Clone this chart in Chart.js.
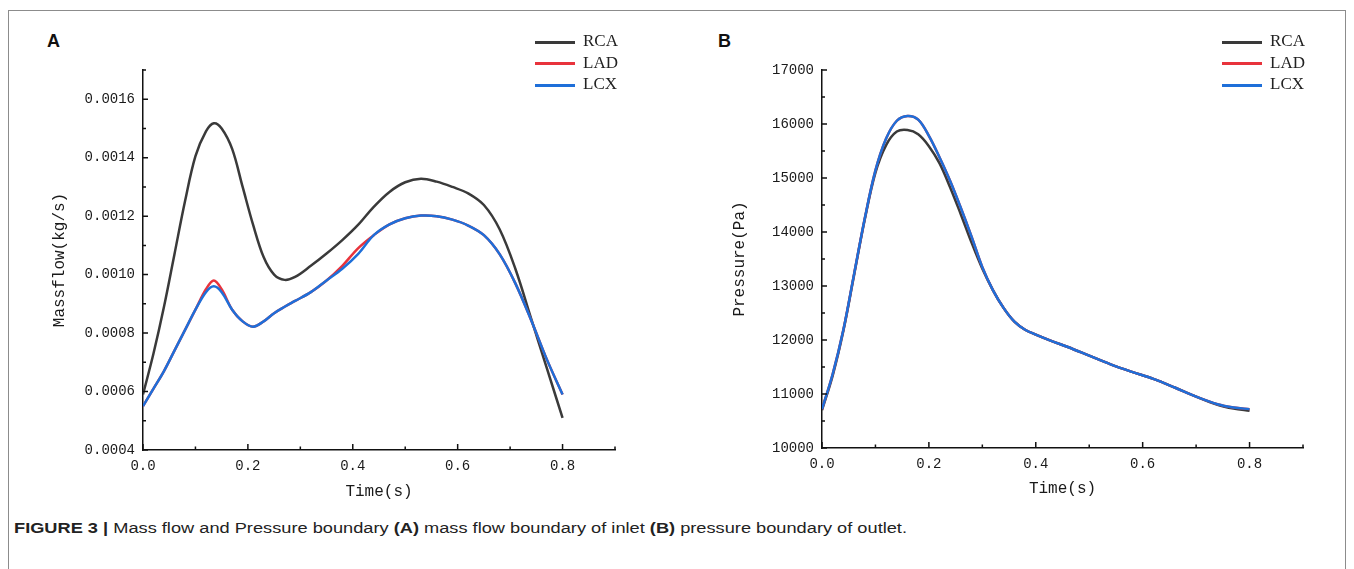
<!DOCTYPE html>
<html lang="en">
<head>
<meta charset="UTF-8">
<title>Figure 3 - Mass flow and Pressure boundary</title>
<script src="https://cdn.jsdelivr.net/npm/chart.js"></script>
<style>
  body { margin: 0; background: #fff; width: 1354px; height: 569px; overflow: hidden; position: relative;
         font-family: "Liberation Sans", Arial, sans-serif; color: #222; }
  .frame { position: absolute; left: 8px; top: 10px; width: 1336px; height: 620px; border: 1.5px solid #8c8c8c; }
  .panel { position: absolute; top: 20px; width: 600px; height: 490px; }
  .tag { position: absolute; top: 31px; font-weight: bold; font-size: 18px; color: #111; }
  .legend { position: absolute; top: 30px; font-family: "Liberation Serif", serif; font-size: 17px; color: #222; }
  .legend .row { height: 21.5px; line-height: 21.5px; white-space: nowrap; }
  .legend .ln { display: inline-block; width: 40px; height: 3px; vertical-align: middle; margin-right: 8px; }
  .caption { position: absolute; left: 14px; top: 519px; font-size: 15.5px; white-space: nowrap; transform-origin: left top; }
</style>
</head>
<body>
<div class="frame"></div>
<div class="tag" style="left:47px">A</div>
<div class="tag" style="left:718px">B</div>
<div class="panel" style="left:40px"><canvas id="chartA" width="600" height="490"></canvas></div>
<div class="panel" style="left:720px"><canvas id="chartB" width="600" height="490"></canvas></div>
<div class="legend" id="legendA" style="left:535px"></div>
<div class="legend" id="legendB" style="left:1222px"></div>
<div class="caption" id="caption"><b>FIGURE 3 |</b> Mass flow and Pressure boundary <b>(A)</b> mass flow boundary of inlet <b>(B)</b> pressure boundary of outlet.</div>

<script>
// ---- data ----
const seriesNames = ['RCA', 'LAD', 'LCX'];
const seriesColors = ['#3a3a3a', '#e8333c', '#1e6fd9'];

// panel A: mass flow at the inlets
const timeA = [0, 0.02, 0.04, 0.06, 0.08, 0.10, 0.12, 0.135, 0.15, 0.17, 0.19, 0.21, 0.23, 0.25, 0.27, 0.29,
               0.32, 0.35, 0.38, 0.41, 0.44, 0.47, 0.50, 0.53, 0.56, 0.59, 0.62, 0.65, 0.68, 0.71, 0.74, 0.77, 0.80];
const rcaFlow = [0.000590, 0.000730, 0.000890, 0.001070, 0.001250, 0.001405, 0.001490, 0.001518, 0.001500, 0.001430, 0.001300,
                 0.001170, 0.001060, 0.001000, 0.000982, 0.000992, 0.001030, 0.001072, 0.001118, 0.001170, 0.001232, 0.001283,
                 0.001316, 0.001328, 0.001318, 0.001300, 0.001278, 0.001238, 0.001155, 0.001020, 0.000850, 0.000680, 0.000510];
const ladFlow = [0.000550, 0.000610, 0.000670, 0.000740, 0.000810, 0.000880, 0.000950, 0.000980, 0.000950, 0.000880, 0.000840,
                 0.000822, 0.000840, 0.000868, 0.000890, 0.000910, 0.000940, 0.000980, 0.001030, 0.001090, 0.001135, 0.001172,
                 0.001193, 0.001202, 0.001200, 0.001188, 0.001168, 0.001135, 0.001070, 0.000970, 0.000845, 0.000710, 0.000590];
const lcxFlow = [0.000550, 0.000610, 0.000670, 0.000740, 0.000810, 0.000880, 0.000940, 0.000960, 0.000940, 0.000880, 0.000840,
                 0.000822, 0.000840, 0.000868, 0.000890, 0.000910, 0.000940, 0.000980, 0.001020, 0.001070, 0.001135, 0.001172,
                 0.001193, 0.001202, 0.001200, 0.001188, 0.001168, 0.001135, 0.001070, 0.000970, 0.000845, 0.000710, 0.000590];

// panel B: pressure at the outlets
const timeB = [0, 0.02, 0.04, 0.06, 0.08, 0.10, 0.12, 0.14, 0.16, 0.18, 0.20, 0.22, 0.24, 0.26, 0.28, 0.30,
               0.32, 0.34, 0.36, 0.38, 0.40, 0.43, 0.46, 0.50, 0.54, 0.58, 0.62, 0.66, 0.70, 0.74, 0.77, 0.80];
const rcaPres = [10700, 11340, 12170, 13200, 14230, 15100, 15610, 15860, 15890, 15810, 15590, 15270, 14820, 14320, 13800, 13320,
                 12920, 12590, 12340, 12190, 12100, 11980, 11870, 11710, 11550, 11410, 11280, 11120, 10950, 10800, 10730, 10690];
const ladPres = [10720, 11370, 12190, 13220, 14250, 15140, 15730, 16060, 16150, 16080, 15780, 15380, 14940, 14440, 13910, 13350,
                 12920, 12590, 12340, 12190, 12100, 11980, 11870, 11710, 11550, 11410, 11280, 11120, 10950, 10810, 10750, 10720];
const lcxPres = [10720, 11370, 12190, 13220, 14250, 15140, 15730, 16060, 16150, 16080, 15780, 15380, 14940, 14440, 13910, 13350,
                 12920, 12590, 12340, 12190, 12100, 11980, 11870, 11710, 11550, 11410, 11280, 11120, 10950, 10810, 10750, 10720];

// axes
const timeTicks = [0, 0.2, 0.4, 0.6, 0.8];
const timeMinor = [0.1, 0.3, 0.5, 0.7, 0.9];
const flowTicks = [0.0004, 0.0006, 0.0008, 0.0010, 0.0012, 0.0014, 0.0016];
const flowMinor = [0.0005, 0.0007, 0.0009, 0.0011, 0.0013, 0.0015, 0.0017];
const presTicks = [10000, 11000, 12000, 13000, 14000, 15000, 16000, 17000];
const presMinor = [10500, 11500, 12500, 13500, 14500, 15500, 16500];

// ---- drawing ----
const monoFont = '"Liberation Mono", "DejaVu Sans Mono", monospace';

// ticks point inward in the original, so draw them here
const inwardTicks = {
  id: 'inwardTicks',
  afterDraw(chart, args, opts) {
    const { ctx, chartArea: a, scales: { x, y } } = chart;
    ctx.save();
    ctx.strokeStyle = '#111';
    ctx.lineWidth = 1.5;
    ctx.beginPath();
    opts.xMajor.forEach(v => { const p = x.getPixelForValue(v); ctx.moveTo(p, a.bottom); ctx.lineTo(p, a.bottom - 6); });
    opts.xMinor.forEach(v => { const p = x.getPixelForValue(v); ctx.moveTo(p, a.bottom); ctx.lineTo(p, a.bottom - 3.5); });
    opts.yMajor.forEach(v => { const p = y.getPixelForValue(v); ctx.moveTo(a.left, p); ctx.lineTo(a.left + 5, p); });
    opts.yMinor.forEach(v => { const p = y.getPixelForValue(v); ctx.moveTo(a.left, p); ctx.lineTo(a.left + 3, p); });
    ctx.stroke();
    ctx.restore();
  }
};

function makeDatasets(time, lists) {
  return lists.map((vals, i) => ({
    label: seriesNames[i],
    data: vals.map((v, k) => ({ x: time[k], y: v })),
    borderColor: seriesColors[i],
    borderWidth: 2.5,
    pointRadius: 0,
    tension: 0.35,
    order: 3 - i   // LCX drawn on top
  }));
}

function makeChart(id, cfg) {
  return new Chart(document.getElementById(id), {
    type: 'line',
    data: { datasets: makeDatasets(cfg.time, cfg.series) },
    options: {
      responsive: false,
      animation: false,
      devicePixelRatio: 1,
      layout: { padding: { top: 50, right: cfg.padRight, left: 0, bottom: 0 } },
      plugins: {
        legend: { display: false },
        tooltip: { enabled: false },
        inwardTicks: { xMajor: timeTicks, xMinor: timeMinor, yMajor: cfg.yTicks, yMinor: cfg.yMinor }
      },
      scales: {
        x: {
          type: 'linear', min: 0, max: 0.9,
          afterBuildTicks: s => { s.ticks = timeTicks.map(v => ({ value: v })); },
          afterFit: s => { s.height = cfg.xHeight; },
          grid: { drawOnChartArea: false, drawTicks: false },
          border: { display: true, color: '#111', width: 1.5 },
          ticks: { padding: 8, color: '#1a1a1a', font: { family: monoFont, size: 14 }, callback: v => v.toFixed(1) },
          title: { display: true, text: 'Time(s)', color: '#1a1a1a', font: { family: monoFont, size: 16 },
                   padding: { top: 0, bottom: cfg.xTitlePad } }
        },
        y: {
          type: 'linear', min: cfg.yMin, max: cfg.yMax,
          afterBuildTicks: s => { s.ticks = cfg.yTicks.map(v => ({ value: v })); },
          afterFit: s => { s.width = cfg.yWidth; },
          grid: { drawOnChartArea: false, drawTicks: false },
          border: { display: true, color: '#111', width: 1.5 },
          ticks: { padding: 8, color: '#1a1a1a', font: { family: monoFont, size: 14 }, callback: cfg.yFormat },
          title: { display: true, text: cfg.yTitle, color: '#1a1a1a', font: { family: monoFont, size: 16 },
                   padding: { top: 10.4, bottom: 0 } }
        }
      }
    },
    plugins: [inwardTicks]
  });
}

makeChart('chartA', {
  time: timeA, series: [rcaFlow, ladFlow, lcxFlow],
  yMin: 0.0004, yMax: 0.0017, yTicks: flowTicks, yMinor: flowMinor,
  yFormat: v => v.toFixed(4), yTitle: 'Massflow(kg/s)',
  yWidth: 103, xHeight: 60, padRight: 25, xTitlePad: 8.4
});

makeChart('chartB', {
  time: timeB, series: [rcaPres, ladPres, lcxPres],
  yMin: 10000, yMax: 17000, yTicks: presTicks, yMinor: presMinor,
  yFormat: v => String(v), yTitle: 'Pressure(Pa)',
  yWidth: 102, xHeight: 62, padRight: 17, xTitlePad: 11.4
});

// legends: short coloured line plus series name
['legendA', 'legendB'].forEach(id => {
  const box = document.getElementById(id);
  seriesNames.forEach((name, i) => {
    const row = document.createElement('div');
    row.className = 'row';
    row.innerHTML = `<span class="ln" style="background:${seriesColors[i]}"></span>${name}`;
    box.appendChild(row);
  });
});

// stretch caption to the original's width
const cap = document.getElementById('caption');
cap.style.transform = `scaleX(${893 / cap.getBoundingClientRect().width})`;
</script>
</body>
</html>
